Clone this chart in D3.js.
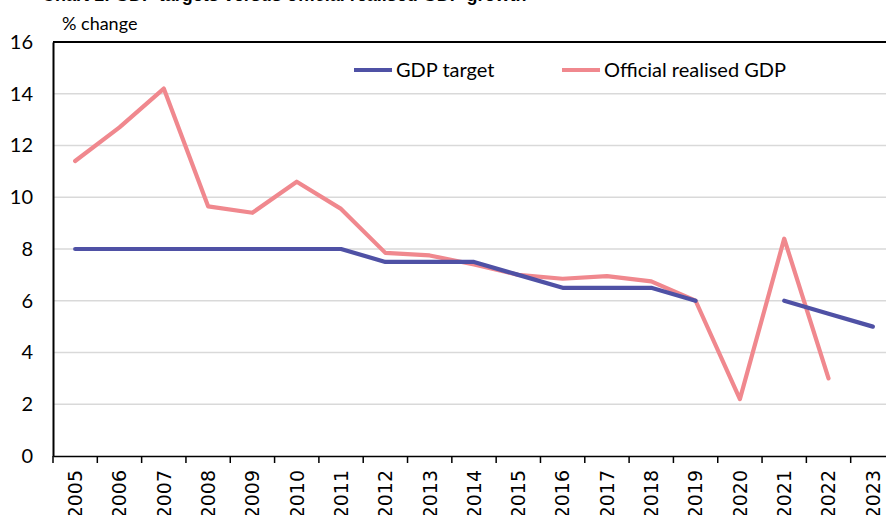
<!DOCTYPE html>
<meta charset="utf-8">
<style>
body { margin: 0; background: #fff; }
.grid line { stroke: #d9d9d9; stroke-width: 1.5px; }
.line { fill: none; stroke-width: 4.2px; stroke-linecap: round; stroke-linejoin: round; }
</style>
<body>
<script src="https://d3js.org/d3.v7.min.js"></script>
<script>

// data
var years = ["2005","2006","2007","2008","2009","2010","2011","2012","2013","2014",
             "2015","2016","2017","2018","2019","2020","2021","2022","2023"];
var gdpTarget = [8, 8, 8, 8, 8, 8, 8, 7.5, 7.5, 7.5, 7, 6.5, 6.5, 6.5, 6, null, 6, 5.5, 5];
var gdpRealised = [11.4, 12.7, 14.2, 9.65, 9.4, 10.6, 9.55, 7.85, 7.75, 7.4, 7.0, 6.85, 6.95, 6.75, 6.0, 2.2, 8.4, 3.0, null];
var yTicks = [0, 2, 4, 6, 8, 10, 12, 14, 16];

var width = 886, height = 515;
var plot = {left: 53, right: 895, top: 42, bottom: 456};

var svg = d3.select("body").append("svg")
    .attr("width", width)
    .attr("height", height);

var x = d3.scaleBand().domain(years).range([plot.left, plot.right]);
var y = d3.scaleLinear().domain([0, 16]).range([plot.bottom, plot.top]);

// title, cut off by the top edge in the original
svg.append("text")
    .attr("x", 42).attr("y", 0.5)
    .style("font-family", "Liberation Sans, Arial, sans-serif")
    .style("font-size", "18px").style("font-weight", "bold")
    .text("Chart 1: GDP targets versus official realised GDP growth");

// gridlines
svg.append("g").attr("class", "grid")
  .selectAll("line")
  .data(yTicks.filter(function(d) { return d > 0 && d < 16; }))
  .enter().append("line")
    .attr("x1", plot.left).attr("x2", width)
    .attr("y1", function(d) { return y(d); })
    .attr("y2", function(d) { return y(d); });

// top border
svg.append("line")
    .attr("x1", plot.left).attr("x2", width)
    .attr("y1", y(16)).attr("y2", y(16))
    .attr("stroke", "#000").attr("stroke-width", 2);

// y axis
var yAxis = svg.append("g")
    .attr("transform", "translate(" + plot.left + ",0)")
    .call(d3.axisLeft(y).tickValues(yTicks).tickSize(0).tickPadding(20));
yAxis.select(".domain").attr("stroke", "#000").attr("stroke-width", 2);
yAxis.selectAll("text")
    .style("font-family", "Lato, sans-serif")
    .style("font-size", "20px")
    .attr("fill", "#000");

// x axis, ticks at band boundaries
var xAxis = svg.append("g")
    .attr("transform", "translate(0," + plot.bottom + ")")
    .call(d3.axisBottom(x).tickSize(0));
xAxis.select(".domain").attr("stroke", "#000").attr("stroke-width", 1.5);
xAxis.selectAll("text")
    .attr("transform", "rotate(-90)")
    .attr("x", -14).attr("y", 0).attr("dy", "0.36em")
    .style("text-anchor", "end")
    .style("font-family", "DejaVu Sans, sans-serif")
    .style("font-size", "19px")
    .attr("fill", "#000");
svg.append("g")
  .selectAll("line")
  .data(years)
  .enter().append("line")
    .attr("x1", function(d) { return x(d); })
    .attr("x2", function(d) { return x(d); })
    .attr("y1", plot.bottom).attr("y2", plot.bottom + 7)
    .attr("stroke", "#000").attr("stroke-width", 1.5);

// y axis title
svg.append("text")
    .attr("x", 62).attr("y", 30)
    .style("font-family", "Lato, sans-serif")
    .style("font-size", "18px")
    .text("% change");

var line = function(vals) {
  return d3.line()
    .defined(function(d) { return d != null; })
    .x(function(d, i) { return x(years[i]) + x.bandwidth() / 2; })
    .y(function(d) { return y(d); })(vals);
};

svg.append("path").attr("class", "line")
    .attr("stroke", "#f0888e")
    .attr("d", line(gdpRealised));

svg.append("path").attr("class", "line")
    .attr("stroke", "#4f51a5")
    .attr("d", line(gdpTarget));

// legend
var legend = [
  {name: "GDP target", color: "#4f51a5", x: 354},
  {name: "Official realised GDP", color: "#f0888e", x: 562}
];
legend.forEach(function(l) {
  svg.append("line")
      .attr("x1", l.x).attr("x2", l.x + 38)
      .attr("y1", 70).attr("y2", 70)
      .attr("stroke", l.color).attr("stroke-width", 4.2);
  svg.append("text")
      .attr("x", l.x + 42).attr("y", 77)
      .style("font-family", "Lato, sans-serif")
      .style("font-size", "20px")
      .text(l.name);
});

</script>
</body>
